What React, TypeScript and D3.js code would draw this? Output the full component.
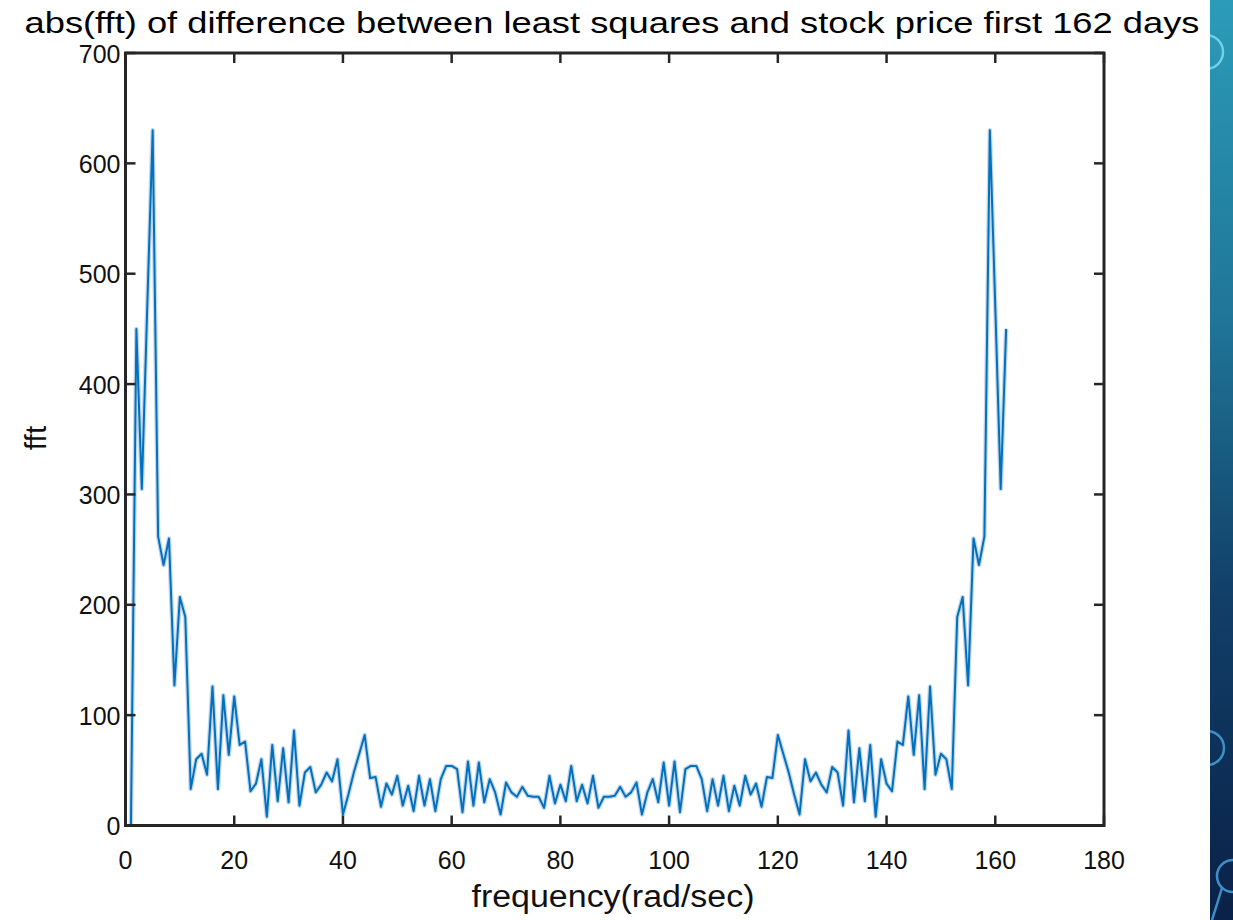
import React from "react";
import * as d3 from "d3";

// abs(fft) samples, index 1..162
const fftValues = [
  0, 450, 305, 470, 630, 262, 236, 260, 127, 207,
  189, 33, 60, 65, 46, 126, 33, 118, 64, 117,
  73, 76, 31, 38, 60, 8, 73, 22, 70, 21,
  86, 18, 48, 53, 30, 37, 48, 40, 60, 10,
  28, 48, 65, 82, 43, 44, 17, 38, 28, 45,
  18, 36, 13, 45, 18, 42, 13, 42, 54, 54,
  51, 12, 58, 18, 57, 21, 42, 30, 10, 39,
  30, 26, 35, 27, 26, 26, 16, 45, 20, 37,
  22, 54, 22, 37, 20, 45, 16, 26, 26, 27,
  35, 26, 30, 39, 10, 30, 42, 21, 57, 18,
  58, 12, 51, 54, 54, 42, 13, 42, 18, 45,
  13, 36, 18, 45, 28, 38, 17, 44, 43, 82,
  65, 48, 28, 10, 60, 40, 48, 37, 30, 53,
  48, 18, 86, 21, 70, 22, 73, 8, 60, 38,
  31, 76, 73, 117, 64, 118, 33, 126, 46, 65,
  60, 33, 189, 207, 127, 260, 236, 262, 630, 470,
  305, 450,
];

const xTicks = [0, 20, 40, 60, 80, 100, 120, 140, 160, 180];
const yTicks = [0, 100, 200, 300, 400, 500, 600, 700];

const titleText = "abs(fft) of difference between least squares and stock price first 162 days";
const xLabel = "frequency(rad/sec)";
const yLabel = "fft";

const W = 1233;
const H = 920;
const plot = { left: 125.5, right: 1104, top: 53, bottom: 825.5 };
const font = "'Liberation Sans', Arial, Helvetica, sans-serif";
const axisColor = "#262626";
const tickLen = 10;

export default function App() {
  const x = d3.scaleLinear().domain([0, 180]).range([plot.left, plot.right]);
  const y = d3.scaleLinear().domain([0, 700]).range([plot.bottom, plot.top]);

  const line = d3
    .line<number>()
    .x((d, i) => x(i + 1))
    .y((d) => y(d));
  const path = line(fftValues) ?? "";

  return (
    <div style={{ position: "absolute", left: 0, top: 0 }}>
      <svg width={W} height={H} style={{ display: "block", background: "#fff" }}>
        <defs>
          <linearGradient id="panel" x1="0" y1="0" x2="0" y2="1">
            <stop offset="0" stopColor="#2c9bb9" />
            <stop offset="0.35" stopColor="#1f7597" />
            <stop offset="0.65" stopColor="#113f68" />
            <stop offset="1" stopColor="#0a2147" />
          </linearGradient>
          <clipPath id="panelClip">
            <rect x={1210} y={0} width={23} height={H} />
          </clipPath>
          <clipPath id="plotClip">
            <rect x={plot.left} y={plot.top} width={plot.right - plot.left} height={plot.bottom - plot.top} />
          </clipPath>
        </defs>

        {/* slide decoration on the right */}
        <rect x={1210} y={0} width={23} height={H} fill="url(#panel)" />
        <g clipPath="url(#panelClip)" fill="none" strokeWidth={2.5}>
          <circle cx={1206} cy={52} r={17} stroke="#6fd0e6" />
          <circle cx={1207} cy={748} r={17} stroke="#3f8fc8" />
          <circle cx={1233} cy={876} r={16} stroke="#3f8fc8" />
          <line x1={1222} y1={888} x2={1212} y2={920} stroke="#3f8fc8" />
        </g>

        {/* data line */}
        <g clipPath="url(#plotClip)" fill="none" strokeLinejoin="round">
          <path d={path} stroke="#aac4e4" strokeWidth={4.5} opacity={0.7} />
          <path d={path} stroke="#0072BD" strokeWidth={2} />
        </g>

        {/* box + ticks */}
        <rect
          x={plot.left}
          y={plot.top}
          width={plot.right - plot.left}
          height={plot.bottom - plot.top}
          fill="none"
          stroke={axisColor}
          strokeWidth={3}
        />
        <g stroke={axisColor} strokeWidth={2.5}>
          {xTicks.map((t) => (
            <g key={"xt" + t}>
              <line x1={x(t)} x2={x(t)} y1={plot.bottom} y2={plot.bottom - tickLen} />
              <line x1={x(t)} x2={x(t)} y1={plot.top} y2={plot.top + tickLen} />
            </g>
          ))}
          {yTicks.map((t) => (
            <g key={"yt" + t}>
              <line x1={plot.left} x2={plot.left + tickLen} y1={y(t)} y2={y(t)} />
              <line x1={plot.right} x2={plot.right - tickLen} y1={y(t)} y2={y(t)} />
            </g>
          ))}
        </g>

        {/* tick labels */}
        <g fontFamily={font} fontSize={25} fill="#111">
          {xTicks.map((t) => (
            <text key={"xl" + t} x={x(t)} y={869} textAnchor="middle">
              {t}
            </text>
          ))}
          {yTicks.map((t) => (
            <text key={"yl" + t} x={plot.left - 5} y={y(t) + 9.5} textAnchor="end">
              {t}
            </text>
          ))}
        </g>

        {/* title and axis labels */}
        <text
          x={612}
          y={33}
          fontFamily={font}
          fontSize={30}
          fill="#000"
          textAnchor="middle"
          textLength={1175}
          lengthAdjust="spacingAndGlyphs"
        >
          {titleText}
        </text>
        <text
          x={613}
          y={907}
          fontFamily={font}
          fontSize={31}
          fill="#111"
          textAnchor="middle"
          textLength={283}
          lengthAdjust="spacingAndGlyphs"
        >
          {xLabel}
        </text>
        <text
          transform="translate(46,438) rotate(-90)"
          fontFamily={font}
          fontSize={30}
          fill="#111"
          textAnchor="middle"
        >
          {yLabel}
        </text>
      </svg>
    </div>
  );
}
